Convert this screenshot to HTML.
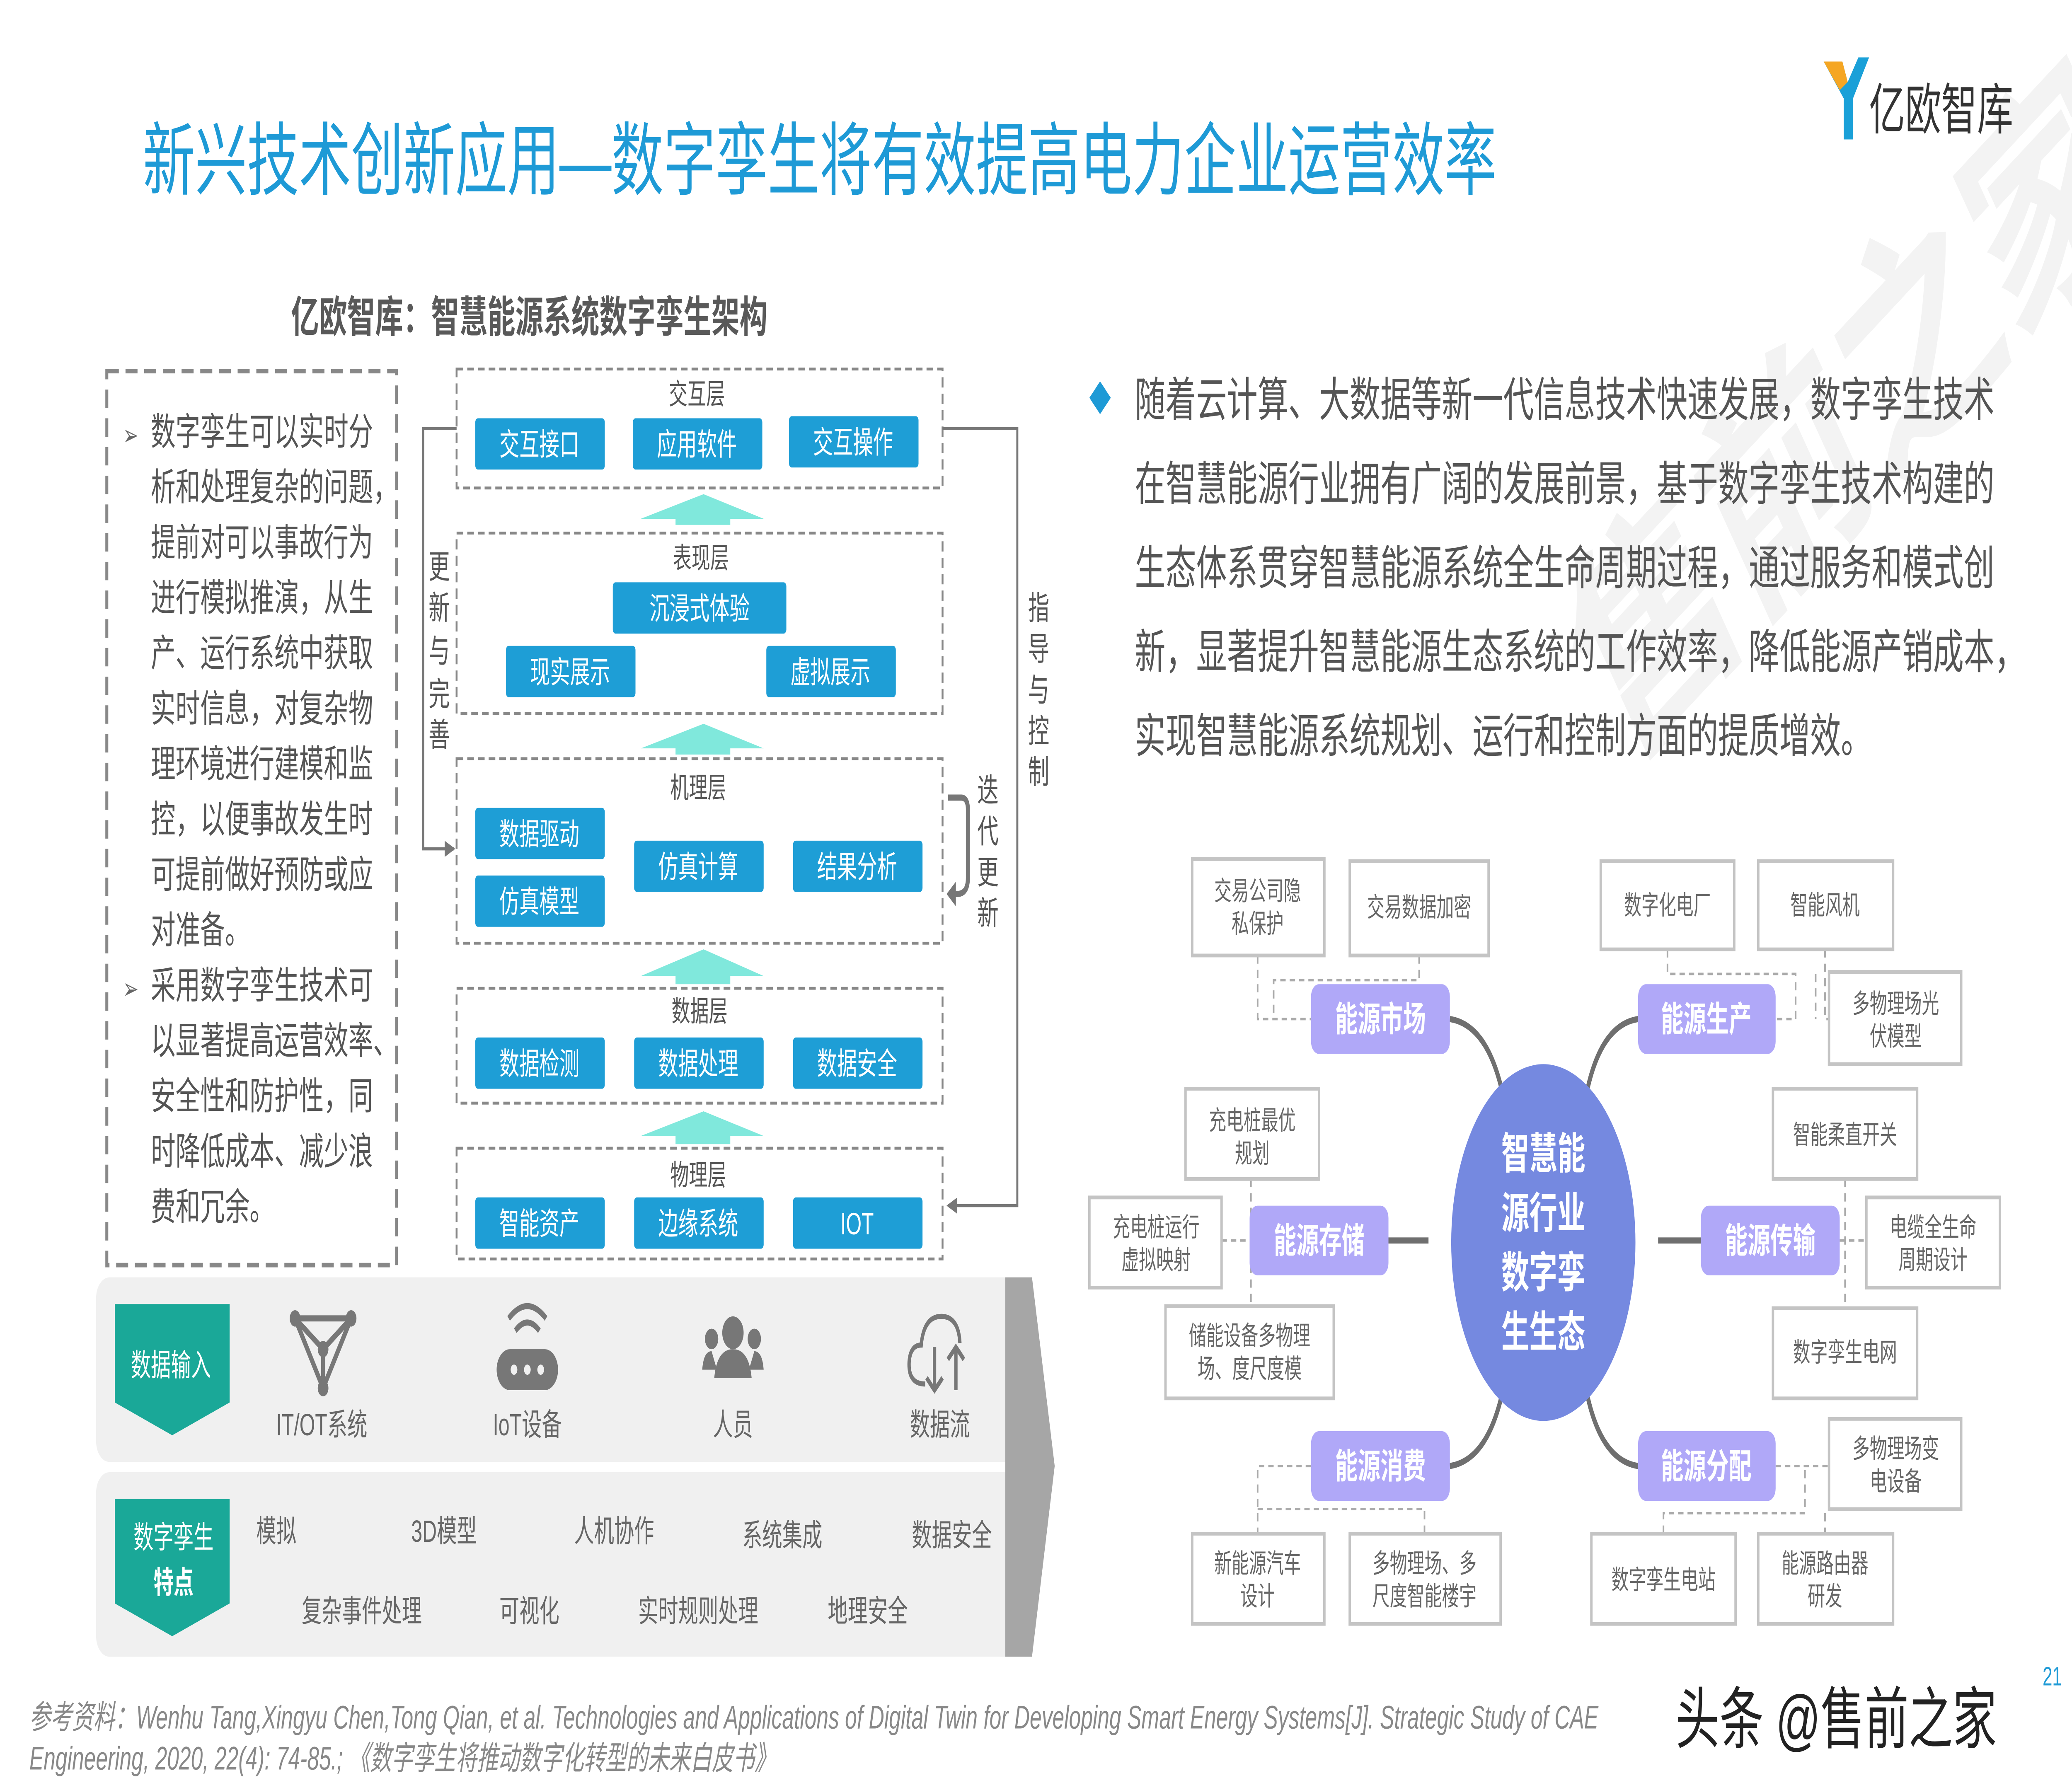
<!DOCTYPE html>
<html><head><meta charset="utf-8"><style>
html,body{margin:0;padding:0;background:#fff;width:100%;height:100%;overflow:hidden}
svg{display:block;width:100vw;height:100vh}
text{font-family:"Liberation Sans","Noto Sans CJK SC",sans-serif}
</style></head><body>
<svg viewBox="0 0 1552 873" preserveAspectRatio="none" xmlns="http://www.w3.org/2000/svg">
<defs>
<marker id="ah" markerWidth="8" markerHeight="8" refX="7" refY="4" orient="auto" markerUnits="userSpaceOnUse"><path d="M0,0 L8,4 L0,8 z" fill="#777"/></marker>
</defs>
<text x="1150" y="330" font-size="120" fill="#f3f3f3" font-weight="bold" transform="rotate(-35 1250 250)">售前之家</text>
<text x="107" y="92" font-size="39" fill="#1e9ad6">新兴技术创新应用—数字孪生将有效提高电力企业运营效率</text>
<path d="M1366,30 L1380,30 L1384,40 L1392,28 L1400,28 L1388,48 L1388,68 L1381,68 L1381,48 z" fill="#1aa0d8"/>
<path d="M1366,30 L1380,30 L1384,40 L1378,44 z" fill="#f5a623"/>
<text x="1400" y="63" font-size="27" fill="#333">亿欧智库</text>
<text x="218" y="162" font-size="21" font-weight="bold" fill="#595959">亿欧智库：智慧能源系统数字孪生架构</text>
<rect x="80" y="181" width="217" height="436" fill="none" stroke="#888" stroke-width="2.2" stroke-dasharray="9,5"/>
<g font-size="18.5" fill="#555">
<text x="92" y="217" font-size="14" fill="#666">➢</text>
<text x="113" y="217">数字孪生可以实时分</text>
<text x="113" y="244">析和处理复杂的问题，</text>
<text x="113" y="271">提前对可以事故行为</text>
<text x="113" y="298">进行模拟推演，从生</text>
<text x="113" y="325">产、运行系统中获取</text>
<text x="113" y="352">实时信息，对复杂物</text>
<text x="113" y="379">理环境进行建模和监</text>
<text x="113" y="406">控，以便事故发生时</text>
<text x="113" y="433">可提前做好预防或应</text>
<text x="113" y="460">对准备。</text>
<text x="92" y="487" font-size="14" fill="#666">➢</text>
<text x="113" y="487">采用数字孪生技术可</text>
<text x="113" y="514">以显著提高运营效率、</text>
<text x="113" y="541">安全性和防护性，同</text>
<text x="113" y="568">时降低成本、减少浪</text>
<text x="113" y="595">费和冗余。</text>
</g>
<g fill="none" stroke="#888" stroke-width="1.4" stroke-dasharray="5,3">
<rect x="342" y="180" width="364" height="58"/>
<rect x="342" y="260" width="364" height="88"/>
<rect x="342" y="370" width="364" height="90"/>
<rect x="342" y="482" width="364" height="56"/>
<rect x="342" y="560" width="364" height="54"/>
</g>
<g font-size="14" fill="#555" text-anchor="middle">
<text x="522" y="197">交互层</text><text x="525" y="277">表现层</text><text x="523" y="389">机理层</text><text x="524" y="498">数据层</text><text x="523" y="578">物理层</text>
</g>
<g fill="#1e9ed6">
<rect x="356" y="204" width="97" height="25" rx="2"/><rect x="474" y="204" width="97" height="25" rx="2"/><rect x="591" y="203" width="97" height="25" rx="2"/>
<rect x="459" y="284" width="130" height="25" rx="2"/>
<rect x="379" y="315" width="97" height="25" rx="2"/><rect x="574" y="315" width="97" height="25" rx="2"/>
<rect x="356" y="394" width="97" height="25" rx="2"/><rect x="356" y="427" width="97" height="25" rx="2"/>
<rect x="475" y="410" width="97" height="25" rx="2"/><rect x="594" y="410" width="97" height="25" rx="2"/>
<rect x="356" y="506" width="97" height="25" rx="2"/><rect x="475" y="506" width="97" height="25" rx="2"/><rect x="594" y="506" width="97" height="25" rx="2"/>
<rect x="356" y="584" width="97" height="25" rx="2"/><rect x="475" y="584" width="97" height="25" rx="2"/><rect x="594" y="584" width="97" height="25" rx="2"/>
</g>
<g font-size="15" fill="#fff" text-anchor="middle">
<text x="404" y="222">交互接口</text><text x="522" y="222">应用软件</text><text x="639" y="221">交互操作</text>
<text x="524" y="302">沉浸式体验</text>
<text x="427" y="333">现实展示</text><text x="622" y="333">虚拟展示</text>
<text x="404" y="412">数据驱动</text><text x="404" y="445">仿真模型</text>
<text x="523" y="428">仿真计算</text><text x="642" y="428">结果分析</text>
<text x="404" y="524">数据检测</text><text x="523" y="524">数据处理</text><text x="642" y="524">数据安全</text>
<text x="404" y="602">智能资产</text><text x="523" y="602">边缘系统</text><text x="642" y="602">IOT</text>
</g>
<g fill="#80e8dc">
<path d="M480,253 L527,241 L572,253 L547,253 L547,256 L506,256 L506,253z"/>
<path d="M480,365 L527,353 L572,365 L547,365 L547,368 L506,368 L506,365z"/>
<path d="M480,476 L527,463 L572,476 L547,476 L547,480 L506,480 L506,476z"/>
<path d="M480,554 L527,542 L572,554 L547,554 L547,558 L506,558 L506,554z"/>
</g>
<path d="M342,209 L317,209 L317,414 L340,414" fill="none" stroke="#777" stroke-width="1.5" marker-end="url(#ah)"/>
<path d="M706,209 L762,209 L762,588 L710,588" fill="none" stroke="#777" stroke-width="1.5" marker-end="url(#ah)"/>
<path d="M710,389 L720,389 Q725,389 725,395 L725,428 Q725,436 717,436 L712,436" fill="none" stroke="#777" stroke-width="3"/>
<path d="M716,430 L709,436 L716,442z" fill="#777"/>
<g font-size="16" fill="#555" text-anchor="middle">
<text x="329" y="282">更</text><text x="329" y="302">新</text><text x="329" y="323">与</text><text x="329" y="344">完</text><text x="329" y="364">善</text>
<text x="778" y="302">指</text><text x="778" y="322">导</text><text x="778" y="342">与</text><text x="778" y="362">控</text><text x="778" y="382">制</text>
<text x="740" y="391">迭</text><text x="740" y="411">代</text><text x="740" y="431">更</text><text x="740" y="451">新</text>
</g>
<rect x="72" y="623" width="690" height="90" rx="10" fill="#f0f0f0"/>
<rect x="72" y="718" width="690" height="90" rx="10" fill="#f0f0f0"/>
<path d="M753,623 L773,623 L790,715 L773,808 L753,808z" fill="#a6a6a6"/>
<path d="M86,636 L172,636 L172,684 L129,700 L86,684z" fill="#1aa898"/>
<path d="M86,731 L172,731 L172,782 L129,798 L86,782z" fill="#1aa898"/>
<g fill="#fff" text-anchor="middle" font-size="15">
<text x="128" y="671">数据输入</text>
<text x="130" y="755">数字孪生</text><text x="130" y="777" font-weight="bold">特点</text>
</g>
<g stroke="#777" stroke-width="3" fill="none">
<path d="M221,643 L263,643 L242,677z M221,643 L242,658 L263,643 M242,658 L242,677"/>
</g>
<g fill="#777"><circle cx="221" cy="643" r="4"/><circle cx="263" cy="643" r="4"/><circle cx="242" cy="677" r="4"/><circle cx="242" cy="658" r="4"/></g>
<rect x="372" y="658" width="46" height="20" rx="10" fill="#777"/>
<g fill="#f0f0f0"><circle cx="385" cy="668" r="2.5"/><circle cx="395" cy="668" r="2.5"/><circle cx="405" cy="668" r="2.5"/></g>
<g fill="none" stroke="#777" stroke-width="3"><path d="M381,643 Q395,631 409,643"/><path d="M386,649 Q395,641 404,649"/></g>
<g fill="#777"><circle cx="549" cy="650" r="8"/><path d="M535,672 Q537,658 549,658 Q561,658 563,672z"/><circle cx="533" cy="653" r="5"/><circle cx="565" cy="653" r="5"/><path d="M526,668 Q527,659 533,659 L537,668z M572,668 Q571,659 565,659 L561,668z"/></g>
<g fill="none" stroke="#777" stroke-width="2.5"><path d="M693,675 Q680,675 681,664 Q682,656 690,656 Q692,642 705,642 Q718,642 719,655"/><path d="M700,657 L700,678 M694,672 L700,678 L706,672 M716,678 L716,657 M710,663 L716,657 L722,663"/></g>
<g font-size="15" fill="#666" text-anchor="middle">
<text x="241" y="700">IT/OT系统</text><text x="395" y="700">IoT设备</text><text x="549" y="700">人员</text><text x="704" y="700">数据流</text>
</g>
<g font-size="15" fill="#666">
<text x="192" y="752">模拟</text><text x="308" y="752">3D模型</text><text x="430" y="752">人机协作</text><text x="556" y="754">系统集成</text><text x="683" y="754">数据安全</text>
<text x="226" y="791">复杂事件处理</text><text x="374" y="791">可视化</text><text x="478" y="791">实时规则处理</text><text x="620" y="791">地理安全</text>
</g>
<path d="M824,186 L832,194 L824,202 L816,194z" fill="#1e9ad6"/>
<g font-size="23" fill="#555">
<text x="850" y="203">随着云计算、大数据等新一代信息技术快速发展，数字孪生技术</text>
<text x="850" y="244">在智慧能源行业拥有广阔的发展前景，基于数字孪生技术构建的</text>
<text x="850" y="285">生态体系贯穿智慧能源系统全生命周期过程，通过服务和模式创</text>
<text x="850" y="326">新，显著提升智慧能源生态系统的工作效率，降低能源产销成本，</text>
<text x="850" y="367">实现智慧能源系统规划、运行和控制方面的提质增效。</text>
</g>
<g fill="none" stroke="#6f6f6f" stroke-width="3">
<path d="M1086,497 Q1116,500 1127,538"/>
<path d="M1227,497 Q1197,500 1187,538"/>
<path d="M1086,715 Q1116,712 1127,674"/>
<path d="M1227,715 Q1197,712 1187,674"/>
<path d="M1040,605 L1070,605"/>
<path d="M1242,605 L1274,605"/>
</g>
<g fill="none" stroke="#aaa" stroke-width="1.2" stroke-dasharray="4,3">
<path d="M942,466 L942,497 L982,497 M1063,466 L1063,478 L954,478 L954,497"/>
<path d="M1249,463 L1249,475 L1345,475 L1345,497 L1330,497 M1367,463 L1367,497 L1370,497 M1360,475 L1360,497"/>
<path d="M937,575 L937,637 M915,605 L936,605"/>
<path d="M1382,575 L1382,638 M1378,605 L1398,605"/>
<path d="M982,715 L942,715 L942,748 M942,736 L1067,736 L1067,748"/>
<path d="M1330,715 L1370,715 M1246,748 L1246,738 L1352,738 L1352,715 M1367,738 L1367,748"/>
</g>
<g fill="#fff" stroke="#c4c4c4" stroke-width="1.8">
<rect x="893" y="419" width="99" height="47"/><rect x="1011" y="420" width="104" height="46"/>
<rect x="1199" y="420" width="100" height="43"/><rect x="1317" y="420" width="101" height="43"/>
<rect x="1370" y="474" width="99" height="45"/>
<rect x="888" y="531" width="100" height="44"/><rect x="1328" y="531" width="108" height="44"/>
<rect x="816" y="584" width="99" height="44"/><rect x="1398" y="584" width="100" height="44"/>
<rect x="873" y="637" width="126" height="45"/><rect x="1328" y="638" width="108" height="44"/>
<rect x="1370" y="692" width="99" height="44"/>
<rect x="893" y="748" width="99" height="44"/><rect x="1011" y="748" width="113" height="44"/>
<rect x="1192" y="748" width="108" height="44"/><rect x="1317" y="748" width="101" height="44"/>
</g>
<g font-size="13" fill="#666" text-anchor="middle">
<text x="942" y="439">交易公司隐</text><text x="942" y="455">私保护</text>
<text x="1063" y="447">交易数据加密</text>
<text x="1249" y="446">数字化电厂</text><text x="1367" y="446">智能风机</text>
<text x="1420" y="494">多物理场光</text><text x="1420" y="510">伏模型</text>
<text x="938" y="551">充电桩最优</text><text x="938" y="567">规划</text>
<text x="1382" y="558">智能柔直开关</text>
<text x="866" y="603">充电桩运行</text><text x="866" y="619">虚拟映射</text>
<text x="1448" y="603">电缆全生命</text><text x="1448" y="619">周期设计</text>
<text x="936" y="656">储能设备多物理</text><text x="936" y="672">场、度尺度模</text>
<text x="1382" y="664">数字孪生电网</text>
<text x="1420" y="711">多物理场变</text><text x="1420" y="727">电设备</text>
<text x="942" y="767">新能源汽车</text><text x="942" y="783">设计</text>
<text x="1067" y="767">多物理场、多</text><text x="1067" y="783">尺度智能楼宇</text>
<text x="1246" y="775">数字孪生电站</text>
<text x="1367" y="767">能源路由器</text><text x="1367" y="783">研发</text>
</g>
<g fill="#b0a8f8">
<rect x="982" y="480" width="104" height="34" rx="6"/><rect x="1227" y="480" width="103" height="34" rx="6"/>
<rect x="936" y="588" width="104" height="34" rx="6"/><rect x="1274" y="588" width="104" height="34" rx="6"/>
<rect x="982" y="698" width="104" height="34" rx="6"/><rect x="1227" y="698" width="103" height="34" rx="6"/>
</g>
<g font-size="17" fill="#fff" font-weight="bold" text-anchor="middle">
<text x="1034" y="503">能源市场</text><text x="1278" y="503">能源生产</text>
<text x="988" y="611">能源存储</text><text x="1326" y="611">能源传输</text>
<text x="1034" y="721">能源消费</text><text x="1278" y="721">能源分配</text>
</g>
<ellipse cx="1156" cy="606" rx="69" ry="87" fill="#7589e0"/>
<g font-size="21" fill="#fff" font-weight="bold" text-anchor="middle">
<text x="1156" y="570">智慧能</text><text x="1156" y="599">源行业</text><text x="1156" y="628">数字孪</text><text x="1156" y="657">生生态</text>
</g>
<g font-size="16" fill="#888" font-style="italic">
<text x="22" y="843">参考资料：Wenhu Tang,Xingyu Chen,Tong Qian, et al. Technologies and Applications of Digital Twin for Developing Smart Energy Systems[J]. Strategic Study of CAE</text>
<text x="22" y="863">Engineering, 2020, 22(4): 74-85.; 《数字孪生将推动数字化转型的未来白皮书》</text>
</g>
<text x="1530" y="822" font-size="13" fill="#1e9ad6">21</text>
<text x="1255" y="850" font-size="33" fill="#222" stroke="#fff" stroke-width="4" paint-order="stroke">头条 @售前之家</text>
</svg>
</body></html>
